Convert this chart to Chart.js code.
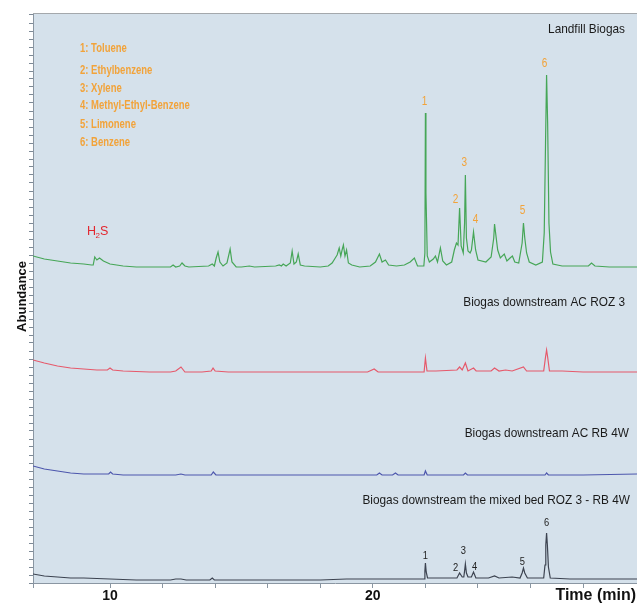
<!DOCTYPE html>
<html><head><meta charset="utf-8">
<script src="https://cdn.jsdelivr.net/npm/chart.js@4.4.1/dist/chart.umd.min.js"></script>
<style>html,body{margin:0;padding:0;background:#fff}canvas{display:block}</style>
</head><body>
<canvas id="c" width="637" height="603"></canvas>
<script>
// ---- Data (retention time in min, abundance in arbitrary stacked units) ----
const landfillTime = [7.07,7.5,8.0,8.5,9.0,9.3,9.36,9.42,9.5,9.6,9.75,10.0,10.5,11.0,12.0,12.3,12.4,12.5,12.65,12.74,12.85,13.0,13.75,13.89,13.97,14.04,14.11,14.18,14.3,14.45,14.57,14.64,14.8,15.0,15.3,15.5,16.3,16.44,16.52,16.59,16.7,16.86,16.93,17.0,17.09,17.16,17.24,17.4,18.0,18.3,18.45,18.57,18.64,18.72,18.78,18.83,18.88,18.94,19.0,19.07,19.2,19.5,19.9,20.1,20.25,20.35,20.48,20.6,20.9,21.2,21.42,21.58,21.7,21.94,21.98,22.0,22.02,22.07,22.15,22.3,22.38,22.46,22.57,22.66,22.8,23.0,23.1,23.18,23.24,23.3,23.36,23.44,23.49,23.52,23.56,23.62,23.7,23.75,23.83,23.91,24.0,24.3,24.5,24.6,24.63,24.68,24.75,24.85,25.0,25.1,25.22,25.31,25.4,25.55,25.68,25.73,25.78,25.85,25.95,26.2,26.45,26.52,26.57,26.61,26.65,26.7,26.76,26.85,27.2,27.8,28.2,28.32,28.45,29.0,30.05];
const landfillAbund = [327,324,322,320,319,318,318,326,323,325,322,319,317,316,316,316,318,316,317,320,317,316,317,319,317,325,331,321,317,320,334,321,316,316,317,316,317,318,317,319,317,320,332,319,321,329,318,317,316,317,320,325,328,335,327,333,338,327,333,320,318,316,317,321,329,321,323,318,317,318,321,325,317,317,330,470,390,327,321,324,327,321,335,322,318,321,333,340,338,375,337,330,360,408,345,332,330,333,351,333,323,321,326,345,359,348,333,325,329,322,325,327,321,320,340,360,345,330,321,318,321,350,440,508,460,360,331,319,317,317,317,320,317,316,316];

const roz3Time = [7.07,7.5,8.0,8.5,9.0,9.5,9.9,10.0,10.1,10.5,11.5,12.3,12.5,12.7,12.85,13.5,13.85,13.92,14.0,14.5,19.8,20.05,20.2,21.95,22.0,22.06,22.4,23.2,23.3,23.4,23.52,23.62,23.83,23.93,24.5,24.63,24.8,25.05,25.3,25.73,25.85,26.5,26.57,26.61,26.65,26.72,27.2,28.0,30.05];
const roz3Abund = [223,220,217,215,214,213,213,215,213,212,211,211,212,216,211,211,212,215,212,211,211,214,211,211,225,212,212,213,216,213,220,212,215,212,212,215,212,213,212,216,212,212,226,233,226,212,212,211,211];

const rb4wTime = [7.07,7.5,8.0,8.5,9.0,9.5,9.95,10.02,10.1,10.5,12.5,12.7,12.85,13.85,13.93,14.03,16.0,18.0,20.15,20.25,20.35,20.75,20.86,20.96,21.95,22.0,22.07,23.45,23.52,23.6,26.55,26.61,26.68,28.0,30.05];
const rb4wAbund = [117,114,112,110,109,109,109,111,109,108,108,109,108,108,111,108,108,108,108,110,108,108,110,108,108,112,108,108,110,108,108,110,108,108,109];

const mixedTime = [7.07,7.5,8.0,8.5,9.0,10.0,11.0,12.3,12.5,12.7,12.9,13.8,13.89,13.97,15.0,17.0,18.0,19.0,20.0,21.0,21.95,21.98,22.0,22.03,22.08,22.5,23.2,23.3,23.4,23.46,23.49,23.52,23.56,23.62,23.75,23.83,23.92,24.4,24.63,24.8,25.3,25.6,25.68,25.73,25.78,25.88,26.5,26.55,26.58,26.61,26.64,26.68,26.75,27.5,28.5,30.05];
const mixedAbund = [9,7,6,5,5,4,3,3,4,4,3,3,5,3,3,3,3,4,4,4,4,12,20,11,5,5,5,10,6,6,12,19,10,6,6,11,5,5,7,5,6,5,10,15,10,5,5,18,38,50,38,16,5,4,4,4];

const traceTitles = ['Landfill Biogas','Biogas downstream AC ROZ 3','Biogas downstream AC RB 4W','Biogas downstream the mixed bed ROZ 3 - RB 4W'];
const peakNumbers = ['1','2','3','4','5','6'];
const peakTimes = [22.0,23.3,23.52,23.83,25.73,26.61];
const compoundNames = ['Toluene','Ethylbenzene','Xylene','Methyl-Ethyl-Benzene','Limonene','Benzene'];
const xTickLabels = [10,20];

const pts = (t, y) => t.map((v, i) => ({x: v, y: y[i]}));
const apex = (t, y, at) => { let m = -Infinity; t.forEach((v, i) => { if (Math.abs(v - at) < 0.035 && y[i] > m) m = y[i]; }); return m; };

const SANS = '"Liberation Sans", Arial, sans-serif';

// draw text horizontally condensed (the original uses a condensed typeface)
function condensed(ctx, text, x, y, sx, align) {
  ctx.save();
  ctx.translate(x, y);
  ctx.scale(sx, 1);
  ctx.textAlign = align;
  ctx.fillText(text, 0, 0);
  ctx.restore();
}

const decor = {
  id: 'decor',
  beforeDraw(chart) {
    const {ctx, chartArea: a} = chart;
    ctx.save();
    ctx.fillStyle = '#ffffff';
    ctx.fillRect(0, 0, chart.width, chart.height);
    ctx.fillStyle = '#d5e1eb';
    ctx.fillRect(a.left, a.top, a.right - a.left, a.bottom - a.top);
    ctx.strokeStyle = '#a4a8ac';
    ctx.lineWidth = 1;
    ctx.beginPath(); ctx.moveTo(a.left, a.top - 0.5); ctx.lineTo(a.right, a.top - 0.5); ctx.stroke();
    ctx.restore();
  },
  afterDraw(chart) {
    const {ctx, chartArea: a, scales: {x, y}} = chart;
    ctx.save();
    ctx.textBaseline = 'alphabetic';
    // Compound legend
    ctx.fillStyle = '#f2a33a';
    ctx.font = 'bold 12.5px ' + SANS;
    const legendBase = [52, 74, 92, 109, 128, 146];
    compoundNames.forEach((n, i) => condensed(ctx, peakNumbers[i] + ': ' + n, 80, legendBase[i], 0.76, 'left'));
    // Trace titles
    ctx.fillStyle = '#1a1a1a';
    ctx.font = '13px ' + SANS;
    const titlePos = [[625, 33], [625, 306], [629, 437], [630, 504]];
    traceTitles.forEach((s, i) => condensed(ctx, s, titlePos[i][0], titlePos[i][1], 0.91, 'right'));
    // Peak labels on landfill trace
    ctx.textBaseline = 'middle';
    ctx.fillStyle = '#f2a33a';
    ctx.font = '12.5px ' + SANS;
    const gdx = [-1, -4, -1, 2, -1, -2], gdy = [11, 8, 12, 12, 12, 11];
    peakTimes.forEach((t, i) => {
      const px = x.getPixelForValue(t), py = y.getPixelForValue(apex(landfillTime, landfillAbund, t));
      condensed(ctx, peakNumbers[i], px + gdx[i], py - gdy[i], 0.8, 'center');
    });
    // Peak labels on mixed-bed trace
    ctx.fillStyle = '#222';
    ctx.font = '11px ' + SANS;
    const bdx = [0, -4, -2, 1, -1, 0], bdy = [7, 5, 13, 5, 6, 10];
    peakTimes.forEach((t, i) => {
      const px = x.getPixelForValue(t), py = y.getPixelForValue(apex(mixedTime, mixedAbund, t));
      condensed(ctx, peakNumbers[i], px + bdx[i], py - bdy[i], 0.85, 'center');
    });
    // H2S label
    ctx.textAlign = 'left'; ctx.textBaseline = 'alphabetic';
    ctx.fillStyle = '#e3262f';
    ctx.font = '12.5px ' + SANS;
    ctx.fillText('H', 87, 235);
    let w = ctx.measureText('H').width;
    ctx.font = '8px ' + SANS;
    ctx.fillText('2', 87 + w - 0.5, 238);
    let w2 = ctx.measureText('2').width;
    ctx.font = '12.5px ' + SANS;
    ctx.fillText('S', 87 + w + w2 - 0.5, 235);
    // Axis titles
    ctx.fillStyle = '#111';
    ctx.font = 'bold 13px ' + SANS;
    ctx.save();
    ctx.translate(26, (a.top + a.bottom) / 2 - 2);
    ctx.rotate(-Math.PI / 2);
    ctx.textAlign = 'center';
    ctx.fillText('Abundance', 0, 0);
    ctx.restore();
    ctx.font = 'bold 16px ' + SANS;
    ctx.textAlign = 'right';
    ctx.fillText('Time (min)', 636, 600);
    ctx.restore();
  }
};

const mk = (t, yv, color) => ({data: pts(t, yv), borderColor: color, borderWidth: 1.2, pointRadius: 0, tension: 0, fill: false});

new Chart(document.getElementById('c'), {
  type: 'line',
  data: {datasets: [
    mk(landfillTime, landfillAbund, '#46a657'),
    mk(roz3Time, roz3Abund, '#e6596b'),
    mk(rb4wTime, rb4wAbund, '#4d57ad'),
    mk(mixedTime, mixedAbund, '#3c4350')
  ]},
  options: {
    responsive: false, animation: false, devicePixelRatio: 1,
    layout: {padding: {top: 14, right: 0, left: 0, bottom: 0}},
    plugins: {legend: {display: false}, tooltip: {enabled: false}},
    scales: {
      x: {
        type: 'linear', min: 7.07, max: 30.05, position: 'bottom',
        afterFit: s => { s.height = 20; },
        border: {color: '#8a96a2', width: 1},
        grid: {drawOnChartArea: false, drawTicks: true, tickLength: 5, color: '#8a96a2'},
        ticks: {stepSize: 2, autoSkip: false, maxRotation: 0, padding: 0, color: '#111',
          font: {family: SANS, size: 14, weight: 'bold'},
          callback: v => xTickLabels.includes(v) ? String(v) : ''}
      },
      y: {
        min: 0, max: 569,
        afterFit: s => { s.width = 33; },
        border: {color: '#8a96a2', width: 1},
        grid: {drawOnChartArea: false, drawTicks: true, tickLength: 4, color: '#7d8a97'},
        ticks: {stepSize: 8, autoSkip: false, display: false, font: {size: 4}}
      }
    }
  },
  plugins: [decor]
});
</script>
</body></html>
